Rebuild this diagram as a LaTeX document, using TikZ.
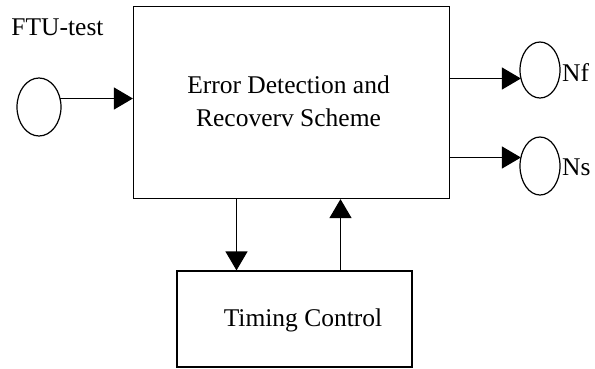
\documentclass[tikz,border=0pt]{standalone}
\usepackage{fontspec}
\setmainfont{Liberation Serif}
\usetikzlibrary{arrows.meta,shapes.geometric}
\begin{document}
\begin{tikzpicture}[x=1bp,y=-1bp,
  every node/.style={font=\fontsize{25.5bp}{28bp}\selectfont},
  box/.style={draw,line width=1.2bp,inner sep=0pt},
  port/.style={draw,line width=1.2bp,ellipse,inner sep=0pt},
  lbl/.style={anchor=base,inner sep=0pt},
  arr/.style={line width=1.2bp,-{Triangle[length=19bp,width=22bp]}}]
\useasboundingbox (0,0) rectangle (595,368);
% boxes
\node[box,minimum width=316bp,minimum height=192bp] (main) at (291.5,102.5) {};
\node[box,minimum width=235bp,minimum height=96bp] (timing) at (294.5,319) {};
% texts
\node[lbl] (t1) at (288.5,93) {Error Detection and};
\node[lbl] (t2) at (288.5,126) {Recoverv Scheme};
\node[lbl] (t3) at (303,326) {Timing Control};
\node[lbl] (ftu) at (57.5,35) {FTU-test};
% ports
\node[port,minimum width=44bp,minimum height=58bp] (in) at (39,107) {};
\node[port,minimum width=40bp,minimum height=56bp] (nf) at (540,70) {};
\node[port,minimum width=40bp,minimum height=58bp] (ns) at (540,166) {};
\node[anchor=west,inner sep=0pt] (nft) at (562,73) {Nf};
\node[anchor=west,inner sep=0pt] (nst) at (562,167) {Ns};
% connector end points on the ellipses
\coordinate (inR) at (60.0,98.5);
\coordinate (nfL) at (520.9,78.5);
\coordinate (nsL) at (520.9,157.5);
% connectors
\draw[arr] (inR) -- (main.west |- inR);
\draw[arr] (main.east |- nfL) -- (nfL);
\draw[arr] (main.east |- nsL) -- (nsL);
\coordinate (dn) at (236.5,198);
\coordinate (up) at (340.5,198);
\draw[arr] (dn |- main.south) -- (dn |- timing.north);
\draw[arr] (up |- timing.north) -- (up |- main.south);
\end{tikzpicture}
\end{document}
